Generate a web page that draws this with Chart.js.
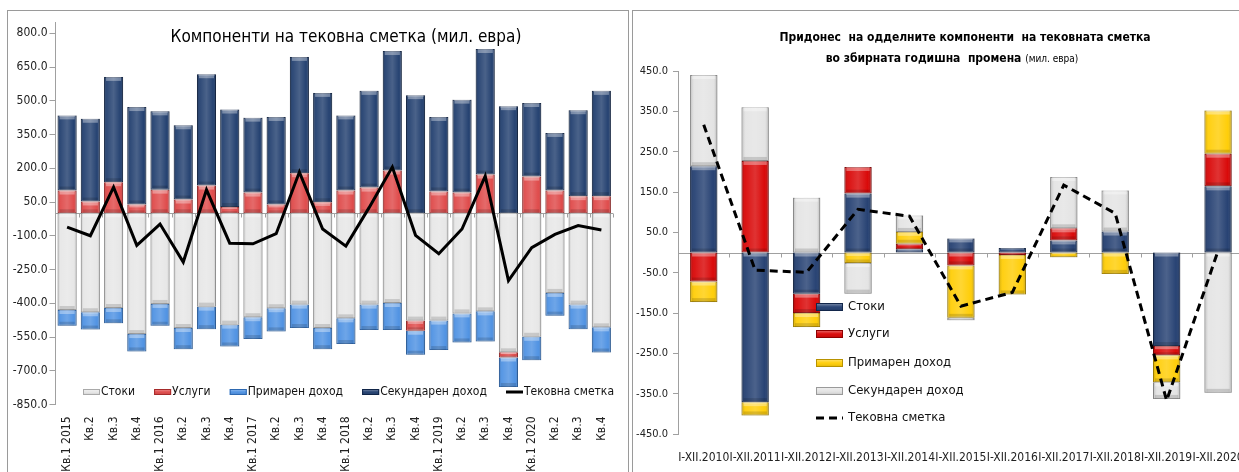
<!DOCTYPE html>
<html>
<head>
<meta charset="utf-8">
<script src="https://cdn.jsdelivr.net/npm/chart.js@4.4.1/dist/chart.umd.min.js"></script>
<style>
  body { margin: 0; width: 1239px; height: 472px; overflow: hidden; background: #fff; position: relative; }
  .panel { position: absolute; top: 10px; height: 480px; border: 1px solid #9a9a9a; background: #fff; overflow: hidden; }
  #p1 { left: 7px; width: 620px; }
  #p2 { left: 632px; width: 640px; }
  canvas { position: absolute; left: 0; top: 0; }
</style>
</head>
<body>
<div class="panel" id="p1"><canvas id="c1" width="619" height="509"></canvas></div>
<div class="panel" id="p2"><canvas id="c2" width="620" height="470"></canvas></div>
<script>
// quarterly components, mil. EUR
const quarters = ['Кв.1 2015', 'Кв.2', 'Кв.3', 'Кв.4', 'Кв.1 2016', 'Кв.2', 'Кв.3', 'Кв.4',
  'Кв.1 2017', 'Кв.2', 'Кв.3', 'Кв.4', 'Кв.1 2018', 'Кв.2', 'Кв.3', 'Кв.4',
  'Кв.1 2019', 'Кв.2', 'Кв.3', 'Кв.4', 'Кв.1 2020', 'Кв.2', 'Кв.3', 'Кв.4'];
const qGoods = [-430, -440, -421, -537, -403, -510, -415, -495, -462, -422, -406, -510,
  -467, -406, -399, -477, -477, -445, -436, -618, -549, -354, -406, -507];
const qServices = [101, 52, 138, 39, 105, 61, 123, 28, 92, 39, 178, 49,
  101, 114, 190, -45, 97, 92, 172, -23, 163, 101, 76, 76];
const qPrimary = [-70, -77, -68, -77, -97, -94, -100, -97, -97, -103, -104, -94,
  -114, -113, -120, -107, -131, -129, -134, -131, -104, -101, -109, -112];
const qSecondary = [334, 368, 468, 433, 348, 330, 495, 433, 333, 389, 517, 486,
  334, 430, 531, 525, 331, 413, 558, 476, 327, 256, 382, 468];
const qCurrent = [-62, -100, 116, -143, -48, -217, 104, -133, -136, -91, 183, -70,
  -146, 25, 205, -98, -180, -70, 165, -299, -153, -94, -55, -74];
const leftTicks = [-850, -700, -550, -400, -250, -100, 50, 200, 350, 500, 650, 800];

// contribution to annual change, mil. EUR
const years = ['I-XII.2010', 'I-XII.2011', 'I-XII.2012', 'I-XII.2013', 'I-XII.2014', 'I-XII.2015',
  'I-XII.2016', 'I-XII.2017', 'I-XII.2018', 'I-XII.2019', 'I-XII.2020'];
const yGoods = [214, -371, -102, 146, 8, 35, 11, 30, 52, -232, 164];
const yServices = [-72, 227, -48, 66, 14, -32, -6, 30, 0, -23, 81];
const yPrimary = [-51, -33, -35, -26, 29, -130, -98, -12, -53, -67, 107];
const ySecondary = [226, 133, 136, -76, 41, -6, 0, 127, 102, -41, -348];
const yCurrent = [317, -44, -49, 107, 90, -133, -99, 167, 97, -367, 4];
const rightTicks = [-450, -350, -250, -150, -50, 50, 150, 250, 350, 450];

const FONT = "'DejaVu Sans Condensed', 'Liberation Sans Narrow', 'DejaVu Sans', sans-serif";
Chart.defaults.font.family = FONT;
Chart.defaults.color = '#222';

function gloss(ctx, l, t, w, h) {
  if (h < 1 || w < 2) return;
  const g = ctx.createLinearGradient(l, 0, l + w, 0);
  g.addColorStop(0, 'rgba(0,0,0,0.20)');
  g.addColorStop(0.15, 'rgba(255,255,255,0.08)');
  g.addColorStop(0.5, 'rgba(255,255,255,0.20)');
  g.addColorStop(0.85, 'rgba(255,255,255,0.04)');
  g.addColorStop(1, 'rgba(0,0,0,0.25)');
  ctx.fillStyle = g;
  ctx.fillRect(l, t, w, h);
  const bh = Math.min(4, h / 3);
  ctx.fillStyle = 'rgba(255,255,255,0.35)';
  ctx.fillRect(l + 2, t, w - 4, bh);
  ctx.fillStyle = 'rgba(0,0,0,0.14)';
  ctx.fillRect(l + 2, t + h - bh, w - 4, bh);
}

function makeOverlay(cfg) {
  return {
    id: 'overlay',
    beforeDatasetsDraw(chart) {
      const { ctx, chartArea: a, scales: { x, y } } = chart;
      const y0 = Math.round(y.getPixelForValue(0)) + 0.5;
      const step = x.getPixelForValue(1) - x.getPixelForValue(0);
      ctx.save();
      ctx.strokeStyle = '#a0a0a0';
      ctx.lineWidth = 1;
      ctx.beginPath();
      ctx.moveTo(a.left, y0);
      ctx.lineTo(a.right, y0);
      for (let i = 0; i <= chart.data.labels.length; i++) {
        const px = Math.round(x.getPixelForValue(0) - step / 2 + i * step) + 0.5;
        ctx.moveTo(px, y0);
        ctx.lineTo(px, y0 + 4);
      }
      ctx.stroke();
      ctx.restore();
    },
    afterDatasetDraw(chart, args) {
      if (args.meta.type !== 'bar') return;
      const ctx = chart.ctx;
      ctx.save();
      args.meta.data.forEach(el => {
        const l = el.x - el.width / 2;
        const t = Math.min(el.y, el.base);
        gloss(ctx, l, t, el.width, Math.abs(el.base - el.y));
      });
      ctx.restore();
    },
    afterDraw(chart) {
      const ctx = chart.ctx;
      const ds = chart.data.datasets;
      ctx.save();
      ctx.fillStyle = '#000';
      ctx.textBaseline = 'middle';
      // title
      cfg.title.forEach(line => {
        let total = 0;
        line.parts.forEach(p => { ctx.font = p.font; p.w = ctx.measureText(p.text).width; total += p.w; });
        let cx = line.x - total / 2;
        ctx.textAlign = 'left';
        line.parts.forEach(p => { ctx.font = p.font; ctx.fillText(p.text, cx, line.y); cx += p.w; });
      });
      // legend
      const L = cfg.legend;
      ctx.font = L.font;
      const items = ds.map(d => ({ d, tw: ctx.measureText(d.label).width }));
      let positions;
      if (L.horizontal) {
        const widths = items.map(it => L.sw + L.tgap + it.tw);
        const sum = widths.reduce((s, v) => s + v, 0);
        const gap = (L.x1 - L.x0 - sum) / (items.length - 1);
        let cx = L.x0;
        positions = widths.map(w => { const p = { x: cx, y: L.y }; cx += w + gap; return p; });
      } else {
        positions = items.map((it, i) => ({ x: L.x0, y: L.rows[i] }));
      }
      items.forEach((it, i) => {
        const p = positions[i];
        const d = it.d;
        if (d.type === 'line') {
          ctx.strokeStyle = d.borderColor;
          ctx.lineWidth = 3;
          ctx.setLineDash(d.borderDash || []);
          ctx.beginPath();
          ctx.moveTo(p.x, p.y);
          ctx.lineTo(p.x + L.sw, p.y);
          ctx.stroke();
          ctx.setLineDash([]);
        } else {
          const t = Math.round(p.y - L.sh / 2);
          ctx.fillStyle = d.backgroundColor;
          ctx.fillRect(p.x, t, L.sw, L.sh);
          ctx.strokeStyle = d.borderColor;
          ctx.lineWidth = 1;
          ctx.strokeRect(p.x + 0.5, t + 0.5, L.sw - 1, L.sh - 1);
          const g = ctx.createLinearGradient(0, t, 0, t + L.sh);
          g.addColorStop(0, 'rgba(255,255,255,0.45)');
          g.addColorStop(0.5, 'rgba(255,255,255,0.05)');
          g.addColorStop(1, 'rgba(0,0,0,0.15)');
          ctx.fillStyle = g;
          ctx.fillRect(p.x + 1, t + 1, L.sw - 2, L.sh - 2);
        }
        ctx.fillStyle = '#111';
        ctx.textAlign = 'left';
        ctx.font = L.font;
        ctx.fillText(d.label, p.x + L.sw + L.tgap, p.y);
      });
      ctx.restore();
    }
  };
}

function tickLabel(v) { return Number(v).toFixed(1); }

new Chart(document.getElementById('c1'), {
  type: 'bar',
  data: {
    labels: quarters,
    datasets: [
      { label: 'Стоки', data: qGoods, backgroundColor: '#e6e6e6', borderColor: '#a9a9a9', borderWidth: 1, borderSkipped: false, order: 1 },
      { label: 'Услуги', data: qServices, backgroundColor: '#de4545', borderColor: '#a52a2a', borderWidth: 1, borderSkipped: false, order: 1 },
      { label: 'Примарен доход', data: qPrimary, backgroundColor: '#4a8fe2', borderColor: '#2d68b0', borderWidth: 1, borderSkipped: false, order: 1 },
      { label: 'Секундарен доход', data: qSecondary, backgroundColor: '#1d3b6c', borderColor: '#102548', borderWidth: 1, borderSkipped: false, order: 1 },
      { type: 'line', label: 'Тековна сметка', data: qCurrent, borderColor: '#000', backgroundColor: '#000',
        borderWidth: 3, pointRadius: 0, tension: 0, order: 0 }
    ]
  },
  options: {
    responsive: false,
    animation: false,
    layout: { padding: { top: 11, right: 14, left: 0, bottom: 0 } },
    datasets: { bar: { barPercentage: 0.82, categoryPercentage: 1 } },
    plugins: { legend: { display: false }, tooltip: { enabled: false } },
    scales: {
      x: {
        stacked: true,
        grid: { display: false },
        border: { display: false },
        ticks: { minRotation: 90, maxRotation: 90, autoSkip: false, padding: 4, font: { size: 12 } },
        afterFit(s) { s.height = 115.5; }
      },
      y: {
        stacked: true,
        min: -850,
        max: 850,
        afterBuildTicks(s) { s.ticks = leftTicks.map(v => ({ value: v })); },
        ticks: { callback: tickLabel, padding: 2, font: { size: 12 } },
        grid: { drawOnChartArea: false, tickColor: '#a0a0a0', tickLength: 6 },
        border: { color: '#a0a0a0' },
        afterFit(s) { s.width = 47.5; }
      }
    }
  },
  plugins: [makeOverlay({
    title: [{ x: 338, y: 27, parts: [{ text: 'Компоненти на тековна сметка (мил. евра)', font: '17px ' + FONT }] }],
    legend: { horizontal: true, x0: 75, x1: 606, y: 381, sw: 17, sh: 6, tgap: 1, font: '12px ' + FONT }
  })]
});

new Chart(document.getElementById('c2'), {
  type: 'bar',
  data: {
    labels: years,
    datasets: [
      { label: 'Стоки', data: yGoods, backgroundColor: '#1f3b6e', borderColor: '#13274b', borderWidth: 1, borderSkipped: false, order: 1 },
      { label: 'Услуги', data: yServices, backgroundColor: '#d80000', borderColor: '#8f0000', borderWidth: 1, borderSkipped: false, order: 1 },
      { label: 'Примарен доход', data: yPrimary, backgroundColor: '#ffcc00', borderColor: '#b89200', borderWidth: 1, borderSkipped: false, order: 1 },
      { label: 'Секундарен доход', data: ySecondary, backgroundColor: '#e3e3e3', borderColor: '#9a9a9a', borderWidth: 1, borderSkipped: false, order: 1 },
      { type: 'line', label: 'Тековна сметка', data: yCurrent, borderColor: '#000', backgroundColor: '#000',
        borderWidth: 3, borderDash: [8, 5], pointRadius: 0, tension: 0, order: 0 }
    ]
  },
  options: {
    responsive: false,
    animation: false,
    layout: { padding: { top: 60, right: 8, left: 0, bottom: 0 } },
    datasets: { bar: { barPercentage: 0.53, categoryPercentage: 1 } },
    plugins: { legend: { display: false }, tooltip: { enabled: false } },
    scales: {
      x: {
        stacked: true,
        grid: { display: false },
        border: { display: false },
        ticks: { minRotation: 0, maxRotation: 0, autoSkip: false, padding: 9, font: { size: 12 } },
        afterFit(s) { s.height = 47; }
      },
      y: {
        stacked: true,
        min: -450,
        max: 450,
        afterBuildTicks(s) { s.ticks = rightTicks.map(v => ({ value: v })); },
        ticks: { callback: tickLabel, padding: 5, font: { size: 11 } },
        grid: { drawOnChartArea: false, tickColor: '#a0a0a0', tickLength: 5 },
        border: { color: '#a0a0a0' },
        afterFit(s) { s.width = 45; }
      }
    }
  },
  plugins: [makeOverlay({
    title: [
      { x: 332, y: 27, parts: [{ text: 'Придонес  на одделните компоненти  на тековната сметка', font: 'bold 12px ' + FONT }] },
      { x: 319, y: 48, parts: [
        { text: 'во збирната годишна  промена ', font: 'bold 12px ' + FONT },
        { text: '(мил. евра)', font: '10px ' + FONT }
      ] }
    ],
    legend: { horizontal: false, x0: 183, rows: [296, 323, 352, 380, 407], sw: 27, sh: 8, tgap: 5, font: '13px ' + FONT }
  })]
});
</script>
</body>
</html>
